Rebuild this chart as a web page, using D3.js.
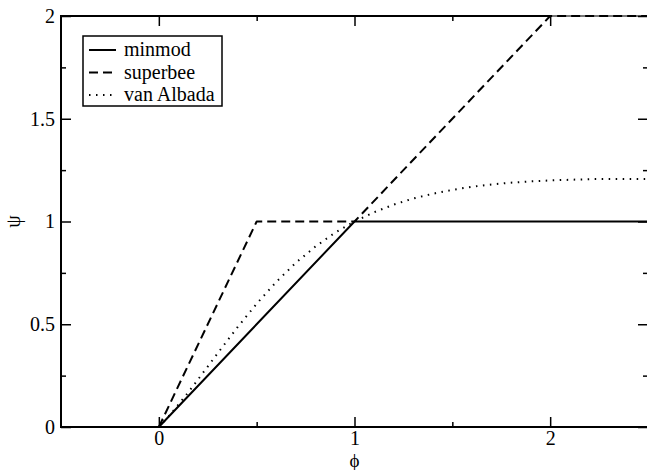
<!DOCTYPE html>
<html>
<head>
<meta charset="utf-8">
<script src="https://cdn.jsdelivr.net/npm/d3@7"></script>
<style>
  body { margin: 0; background: #fff; }
  svg text { font-family: "Liberation Serif", "DejaVu Serif", serif; fill: #000; }
</style>
</head>
<body>
<div id="chart"></div>
<script>
// limiter functions psi(phi)
const minmodPhi = [-0.5, 0, 1, 2.5];
const minmodPsi = [0, 0, 1, 1];

const superbeePhi = [-0.5, 0, 0.5, 1, 2, 2.5];
const superbeePsi = [0, 0, 1, 1, 2, 2];

const vanAlbadaPhi = [-0.5, 0, 0.05, 0.1, 0.15, 0.2, 0.3, 0.4, 0.5, 0.6, 0.7, 0.8, 0.9, 1.0,
  1.1, 1.2, 1.3, 1.4, 1.5, 1.6, 1.7, 1.8, 1.9, 2.0, 2.1, 2.2, 2.3, 2.4, 2.5];
const vanAlbadaPsi = [0, 0, 0.052, 0.109, 0.168, 0.231, 0.358, 0.483, 0.6, 0.706, 0.799, 0.878, 0.945, 1.0,
  1.045, 1.082, 1.112, 1.135, 1.154, 1.169, 1.18, 1.189, 1.195, 1.2, 1.203, 1.206, 1.207, 1.207, 1.207];

const xMajor = [0, 1, 2];
const xMinor = [0.5, 1.5];
const yMajor = [0, 0.5, 1, 1.5, 2];
const yMinor = [0.25, 0.75, 1.25, 1.75];

const legendNames = ["minmod", "superbee", "van Albada"];
const legendDash = [null, "9,5", "1.5,5.5"];

const W = 647, H = 470;
const margin = { top: 16, right: -1, bottom: 43, left: 61 };
const serif = '"Liberation Serif", "DejaVu Serif", serif';

const svg = d3.select("#chart").append("svg")
    .attr("width", W)
    .attr("height", H);

const x = d3.scaleLinear().domain([-0.5, 2.5]).range([margin.left, W - margin.right]);
const y = d3.scaleLinear().domain([0, 2]).range([H - margin.bottom, margin.top]);

svg.append("clipPath").attr("id", "plot-clip")
  .append("rect")
    .attr("x", x(-0.5)).attr("y", y(2) - 1)
    .attr("width", x(2.5) - x(-0.5))
    .attr("height", y(0) - y(2) + 2);

// curves
const series = [
  { phi: minmodPhi, psi: minmodPsi, dash: legendDash[0] },
  { phi: superbeePhi, psi: superbeePsi, dash: legendDash[1] },
  { phi: vanAlbadaPhi, psi: vanAlbadaPsi, dash: legendDash[2] }
];

const line = d3.line()
    .x(d => x(d[0]))
    .y(d => y(d[1]));

// frame first, so the curves running along it stay visible
svg.append("rect")
    .attr("x", x(-0.5)).attr("y", y(2))
    .attr("width", x(2.5) - x(-0.5))
    .attr("height", y(0) - y(2))
    .attr("fill", "none")
    .attr("stroke", "#777")
    .attr("stroke-width", 2);

const curves = svg.append("g").attr("clip-path", "url(#plot-clip)");
series.forEach(s => {
  curves.append("path")
    .datum(s.phi.map((p, i) => [p, s.psi[i]]))
    .attr("d", line)
    .attr("fill", "none")
    .attr("stroke", "#000")
    .attr("stroke-width", 2)
    .attr("stroke-linejoin", "round")
    .attr("stroke-dasharray", s.dash);
});

// axes with inward ticks on all four sides
function styleAxis(g) {
  g.attr("font-family", serif);
  g.select(".domain").remove();
  g.selectAll(".tick line").attr("stroke", "#000").attr("stroke-width", 1.5);
  g.selectAll(".tick text").style("font-size", "20px").style("font-family", serif);
}

svg.append("g")
    .attr("transform", `translate(0,${y(0)})`)
    .call(d3.axisBottom(x).tickValues(xMajor).tickSize(-10).tickPadding(4).tickFormat(d3.format("d")))
    .call(styleAxis);
svg.append("g")
    .attr("transform", `translate(0,${y(0)})`)
    .call(d3.axisBottom(x).tickValues(xMinor).tickSize(-5).tickFormat(""))
    .call(styleAxis);
svg.append("g")
    .attr("transform", `translate(0,${y(2)})`)
    .call(d3.axisTop(x).tickValues(xMajor).tickSize(-10).tickFormat(""))
    .call(styleAxis);
svg.append("g")
    .attr("transform", `translate(0,${y(2)})`)
    .call(d3.axisTop(x).tickValues(xMinor).tickSize(-5).tickFormat(""))
    .call(styleAxis);

svg.append("g")
    .attr("transform", `translate(${x(-0.5)},0)`)
    .call(d3.axisLeft(y).tickValues(yMajor).tickSize(-10).tickPadding(6).tickFormat(d3.format("")))
    .call(styleAxis);
svg.append("g")
    .attr("transform", `translate(${x(-0.5)},0)`)
    .call(d3.axisLeft(y).tickValues(yMinor).tickSize(-5).tickFormat(""))
    .call(styleAxis);
svg.append("g")
    .attr("transform", `translate(${x(2.5)},0)`)
    .call(d3.axisRight(y).tickValues(yMajor).tickSize(-10).tickFormat(""))
    .call(styleAxis);
svg.append("g")
    .attr("transform", `translate(${x(2.5)},0)`)
    .call(d3.axisRight(y).tickValues(yMinor).tickSize(-5).tickFormat(""))
    .call(styleAxis);

// dark frame edges over the curves, except where superbee runs along the top
svg.append("line")
    .attr("x1", x(-0.5)).attr("x2", x(-0.5))
    .attr("y1", y(0) + 1).attr("y2", y(2) - 1)
    .attr("stroke", "#000").attr("stroke-width", 2);
svg.append("line")
    .attr("x1", x(-0.5)).attr("x2", x(2.5))
    .attr("y1", y(0)).attr("y2", y(0))
    .attr("stroke", "#000").attr("stroke-width", 2);
svg.append("line")
    .attr("x1", x(-0.5)).attr("x2", x(2))
    .attr("y1", y(2)).attr("y2", y(2))
    .attr("stroke", "#000").attr("stroke-width", 2);

// axis labels
svg.append("text")
    .attr("x", x(1))
    .attr("y", 467)
    .attr("text-anchor", "middle")
    .style("font-size", "19px")
    .text("ϕ");

svg.append("text")
    .attr("transform", `translate(20,${y(1)}) rotate(-90)`)
    .attr("text-anchor", "middle")
    .style("font-size", "20px")
    .text("ψ");

// legend
const legend = svg.append("g");
legend.append("rect")
    .attr("x", 83).attr("y", 36)
    .attr("width", 139).attr("height", 70)
    .attr("fill", "#fff")
    .attr("stroke", "#000")
    .attr("stroke-width", 1.5);

legendNames.forEach((name, i) => {
  const ly = 50 + i * 22.5;
  legend.append("line")
    .attr("x1", 89).attr("x2", 116)
    .attr("y1", ly).attr("y2", ly)
    .attr("stroke", "#000")
    .attr("stroke-width", 2)
    .attr("stroke-dasharray", legendDash[i]);
  legend.append("text")
    .attr("x", 124).attr("y", ly)
    .attr("dy", "0.32em")
    .style("font-size", "20px")
    .text(name);
});
</script>
</body>
</html>
